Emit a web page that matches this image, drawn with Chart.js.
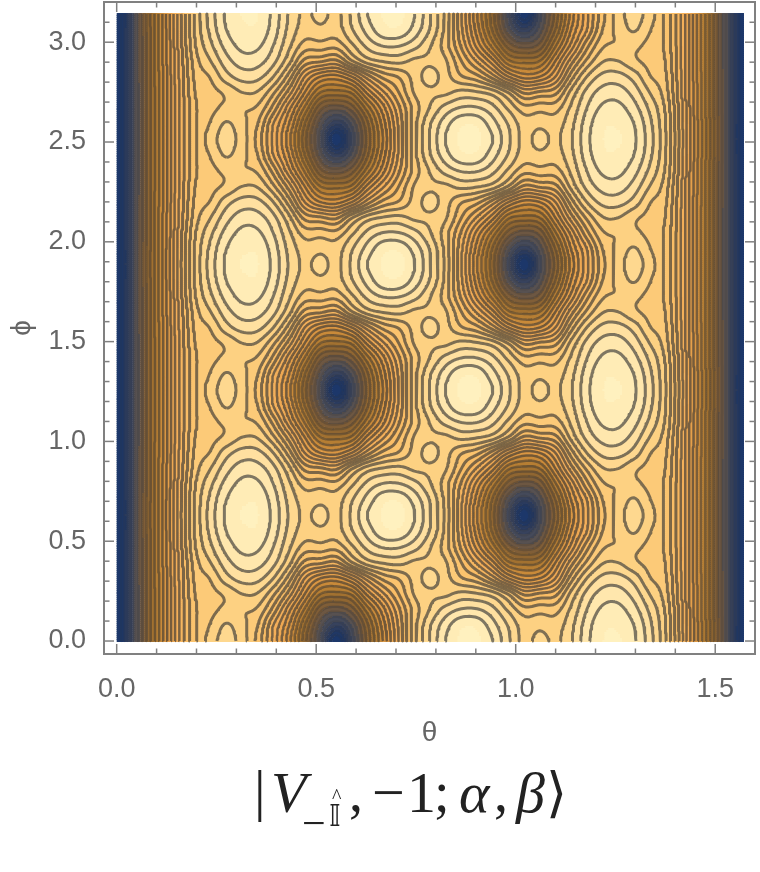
<!DOCTYPE html>
<html>
<head>
<meta charset="utf-8">
<title>contour</title>
<script src="https://cdn.jsdelivr.net/npm/chart.js@4"></script>
<style>
  html, body { margin: 0; padding: 0; background: #fff; }
  .wrap { position: relative; width: 760px; height: 872px; overflow: hidden; }
  canvas { display: block; }
  .m { position: absolute; font-family: "Liberation Serif", serif; color: #222; line-height: 1; white-space: pre; }
  .it { font-style: italic; }
</style>
</head>
<body>
<div class="wrap">
  <canvas id="myChart" width="760" height="872"></canvas>
  <span class="m" style="left:254px;top:762px;font-size:58px">|</span>
  <span class="m it" style="left:271px;top:764px;font-size:58px">V</span>
  <span class="m" style="left:302px;top:802px;font-size:42px">−</span>
  <span class="m" style="left:332px;top:786px;font-size:20px">^</span>
  <span class="m" style="left:329px;top:801px;font-size:30px;font-family:'DejaVu Sans'">𝕀</span>
  <span class="m" style="left:349px;top:764px;font-size:56px">,</span>
  <span class="m" style="left:372px;top:764px;font-size:58px">−</span>
  <span class="m" style="left:407px;top:764px;font-size:58px">1</span>
  <span class="m" style="left:434px;top:764px;font-size:56px">;</span>
  <span class="m it" style="left:459px;top:764px;font-size:58px">α</span>
  <span class="m" style="left:494px;top:764px;font-size:56px">,</span>
  <span class="m it" style="left:516px;top:764px;font-size:58px">β</span>
  <span class="m" style="left:546px;top:766px;font-size:54px;font-family:'DejaVu Sans'">⟩</span>
</div>
<script>
// contour height, in units of "how many contour lines up from the edge"
// rows run along theta, one row per pi/40 in phi
const row8 = [5,9.5,13.5,17.4,21.6,25.2,27.5,29.2,30.1,30,28.7,26.9,25.8,26.4,25.7,27.2,29,30.2,30.3,29.05,27.1,24.7,21,17,13.3,9.3,5,9.6,13.3,17.3,20.7,23.6,25.5,26.4,25.5,23.8,21,17.1,13.3,9.5,5];
const row7 = [5,9.5,13.5,17.4,21.5,25.1,27.3,29,29.8,29.8,28.5,26.7,25.5,25.7,25.5,26.9,28.4,29.7,29.8,28.6,26.9,24.6,21.2,17.5,13.8,10.3,8.2,10.5,14,18,21,24,25.3,26.1,25.1,23.8,21,17.1,13.3,9.5,5];
const row6 = [5,9.5,13.4,17.3,21.4,24.9,26.8,28.4,29.3,29.2,28,26.2,24.6,24.6,24.4,25.8,27.3,28.1,28.1,27.4,26.1,24.4,21.8,18.6,15.5,12.5,11.4,12.3,15.8,19.3,22.6,24.8,25.1,25.2,24.7,23.8,21,17.1,13.3,9.5,5];
const row5 = [5,9.5,13.4,17.2,21.2,24.5,26,27.6,28.5,28.4,27.3,25.3,22.7,22.2,21.8,23.9,25.5,26.1,26.3,25.8,25.8,25.1,23,20.8,18.3,15.2,14.6,15,18,21.5,24.2,25.9,26,25.2,24.7,24,21,17.1,13.3,9.5,5];
const row4 = [5,9.5,13.4,17.1,21.1,24.2,25.1,26.6,27.4,27.3,26,23.5,20,18,17.6,19,21.5,23.3,24.1,25.4,26.4,25.4,24.1,23.3,21.5,19,17.6,18,20,23.5,26,27.3,27.4,26.6,25.1,24.2,21.1,17.1,13.4,9.5,5];
const row3 = [...row5].reverse();
const row2 = [...row6].reverse();
const row1 = [...row7].reverse();
const row0 = [...row8].reverse();

const gridRows = [
  row0,row1,row2,row3,row4,row5,row6,row7,row8,
  row7,row6,row5,row4,row3,row2,row1,
  row0,row1,row2,row3,row4,row5,row6,row7,row8,
  row7,row6,row5,row4,row3,row2,row1,
  row0,row1,row2,row3,row4,row5,row6,row7,row8
];

const thetaMax = Math.PI / 2;
const phiMax = Math.PI;
const contourLevels = [6,7,8,9,10,11,12,13,14,15,16,17,18,19,20,21,22,23,24,25,26,27,28,29];

const thetaLabels = [0, 0.5, 1, 1.5];
const phiLabels = [0, 0.5, 1, 1.5, 2, 2.5, 3];
const thetaMinor = [0.1,0.2,0.3,0.4,0.6,0.7,0.8,0.9,1.1,1.2,1.3,1.4,1.6];
const phiMinor = [0.1,0.2,0.3,0.4,0.6,0.7,0.8,0.9,1.1,1.2,1.3,1.4,1.6,1.7,1.8,1.9,2.1,2.2,2.3,2.4,2.6,2.7,2.8,2.9,3.1,3.2];

// band colours by height
const colorStops = [
  [5, [26,54,108]], [6.5, [32,56,102]], [8, [48,62,94]], [10, [76,78,88]], [12, [120,90,58]], [14, [152,106,46]],
  [16, [192,132,52]], [18, [226,156,70]], [20, [242,172,86]], [23, [251,192,104]], [26, [253,212,135]],
  [28, [255,228,168]], [31, [255,243,196]]
];

function bandColor(z) {
  const v = Math.floor(z) + 0.5;
  for (let k = 1; k < colorStops.length; k++) {
    if (v <= colorStops[k][0]) {
      const a = colorStops[k - 1], b = colorStops[k];
      const t = (v - a[0]) / (b[0] - a[0]);
      const c = a[1].map((n, m) => Math.round(n + (b[1][m] - n) * t));
      return 'rgb(' + c.join(',') + ')';
    }
  }
  return 'rgb(255,243,196)';
}

function lineAlpha(level) {
  if (level < 10) return 0.18;
  if (level < 18) return 0.18 + (level - 10) * 0.056;
  return 0.63;
}

// smooth the hand read table so the rings are round
const fine = 8;
function cr(p0, p1, p2, p3, t) {
  return 0.5 * (2*p1 + (p2-p0)*t + (2*p0-5*p1+4*p2-p3)*t*t + (3*p1-p0-3*p2+p3)*t*t*t);
}
function at(r, c) {
  const j = Math.max(0, Math.min(gridRows.length - 1, r));
  const i = Math.max(0, Math.min(gridRows[0].length - 1, c));
  return gridRows[j][i];
}
const W = (gridRows[0].length - 1) * fine + 1;
const H = (gridRows.length - 1) * fine + 1;
const field = new Float32Array(W * H);
for (let j = 0; j < H; j++) {
  const r = Math.floor(j / fine), tr = j / fine - r;
  for (let i = 0; i < W; i++) {
    const c = Math.floor(i / fine), tc = i / fine - c;
    const col = [];
    for (let m = -1; m <= 2; m++) {
      col.push(cr(at(r+m,c-1), at(r+m,c), at(r+m,c+1), at(r+m,c+2), tc));
    }
    field[j * W + i] = Math.max(0, cr(col[0], col[1], col[2], col[3], tr));
  }
}
const thetaAt = i => i / (W - 1) * thetaMax;
const phiAt = j => j / (H - 1) * phiMax;

// marching squares, chained into polylines with NaN breaks
function contourPoints(level) {
  const nodes = new Map();
  const link = (a, b) => {
    nodes.get(a).next.push(b);
    nodes.get(b).next.push(a);
  };
  const cross = (i, j, horiz) => {
    const key = 2 * (j * W + i) + (horiz ? 0 : 1);
    if (!nodes.has(key)) {
      const v0 = field[j * W + i];
      const v1 = horiz ? field[j * W + i + 1] : field[(j + 1) * W + i];
      const t = (level - v0) / (v1 - v0);
      nodes.set(key, {
        x: thetaAt(horiz ? i + t : i),
        y: phiAt(horiz ? j : j + t),
        next: []
      });
    }
    return key;
  };
  for (let j = 0; j < H - 1; j++) {
    for (let i = 0; i < W - 1; i++) {
      const a = field[j*W+i] >= level, b = field[j*W+i+1] >= level;
      const c = field[(j+1)*W+i+1] >= level, d = field[(j+1)*W+i] >= level;
      const hit = [];
      if (a !== b) hit.push(cross(i, j, true));
      if (b !== c) hit.push(cross(i + 1, j, false));
      if (d !== c) hit.push(cross(i, j + 1, true));
      if (a !== d) hit.push(cross(i, j, false));
      if (hit.length === 2) link(hit[0], hit[1]);
      if (hit.length === 4) { link(hit[0], hit[3]); link(hit[1], hit[2]); }
    }
  }
  const out = [];
  const seen = new Set();
  const walk = start => {
    let cur = start;
    while (cur !== undefined && !seen.has(cur)) {
      seen.add(cur);
      const n = nodes.get(cur);
      out.push({ x: n.x, y: n.y });
      const nx = n.next.find(k => !seen.has(k));
      if (nx === undefined) {
        if (n.next.includes(start) && cur !== start) out.push({ x: nodes.get(start).x, y: nodes.get(start).y });
      }
      cur = nx;
    }
    out.push({ x: NaN, y: NaN });
  };
  nodes.forEach((n, k) => { if (n.next.length === 1 && !seen.has(k)) walk(k); });
  nodes.forEach((n, k) => { if (!seen.has(k)) walk(k); });
  return out;
}

const datasets = contourLevels.map(level => ({
  data: contourPoints(level),
  showLine: true,
  pointRadius: 0,
  borderWidth: level >= 22 ? 3 : 2.5,
  borderJoinStyle: 'round',
  borderColor: 'rgba(51,51,51,' + lineAlpha(level) + ')',
  spanGaps: false
}));

const bandFill = {
  id: 'bandFill',
  beforeDatasetsDraw(chart) {
    const { ctx, scales: { x, y } } = chart;
    ctx.save();
    for (let j = 0; j < H - 1; j++) {
      const y0 = y.getPixelForValue(phiAt(j)), y1 = y.getPixelForValue(phiAt(j + 1));
      let i = 0;
      while (i < W - 1) {
        const col = Math.floor(field[j * W + i]);
        let e = i + 1;
        while (e < W - 1 && Math.floor(field[j * W + e]) === col) e++;
        const x0 = x.getPixelForValue(thetaAt(i)), x1 = x.getPixelForValue(thetaAt(e));
        ctx.fillStyle = bandColor(field[j * W + i]);
        ctx.fillRect(x0, Math.floor(y1), x1 - x0 + 0.5, Math.ceil(y0) - Math.floor(y1));
        i = e;
      }
    }
    ctx.restore();
  }
};

const frameColor = '#808080';
const frameTicks = {
  id: 'frameTicks',
  afterDatasetsDraw(chart) {
    const { ctx, chartArea: a, scales: { x, y } } = chart;
    ctx.save();
    ctx.strokeStyle = frameColor;
    ctx.lineWidth = 1.5;
    const seg = (x0, y0, x1, y1) => { ctx.beginPath(); ctx.moveTo(x0, y0); ctx.lineTo(x1, y1); ctx.stroke(); };
    const drawX = (v, len) => {
      const p = x.getPixelForValue(v);
      seg(p, a.bottom, p, a.bottom - len);
      seg(p, a.top, p, a.top + len);
    };
    const drawY = (v, len) => {
      const p = y.getPixelForValue(v);
      seg(a.left, p, a.left + len, p);
      seg(a.right, p, a.right - len, p);
    };
    thetaLabels.forEach(v => drawX(v, 10));
    thetaMinor.forEach(v => drawX(v, 5.5));
    phiLabels.forEach(v => drawY(v, 10));
    phiMinor.forEach(v => drawY(v, 5.5));
    ctx.lineWidth = 2;
    ctx.strokeRect(a.left, a.top, a.right - a.left, a.bottom - a.top);
    ctx.restore();
  }
};

const labelFont = { family: '"Liberation Sans", sans-serif', size: 27 };
const titleFont = { family: '"Liberation Sans", sans-serif', size: 28 };

new Chart(document.getElementById('myChart'), {
  type: 'scatter',
  data: { datasets },
  options: {
    responsive: false,
    animation: false,
    events: [],
    layout: { padding: { top: 2, right: 5, left: 0, bottom: 0 } },
    plugins: { legend: { display: false }, tooltip: { enabled: false } },
    scales: {
      x: {
        type: 'linear',
        min: -0.0318,
        max: 1.5997,
        grid: { display: false },
        border: { display: false },
        afterBuildTicks: s => { s.ticks = thetaLabels.map(value => ({ value })); },
        afterFit: s => { s.height = 218; s.paddingLeft = 0; s.paddingRight = 0; },
        ticks: {
          autoSkip: false, maxRotation: 0, padding: 11, color: '#666', font: labelFont,
          callback: v => Number(v).toFixed(1)
        },
        title: { display: true, text: 'θ', color: '#666', font: titleFont, padding: { top: 0, bottom: 122 } }
      },
      y: {
        type: 'linear',
        min: -0.065,
        max: 3.2014,
        grid: { display: false },
        border: { display: false },
        afterBuildTicks: s => { s.ticks = phiLabels.map(value => ({ value })); },
        afterFit: s => { s.width = 104; s.paddingTop = 0; s.paddingBottom = 0; },
        ticks: {
          autoSkip: false, padding: 10, color: '#666', font: labelFont,
          callback: v => Number(v).toFixed(1)
        },
        title: { display: true, text: 'ϕ', color: '#666', font: titleFont, padding: { top: 5, bottom: 0 } }
      }
    }
  },
  plugins: [bandFill, frameTicks]
});
</script>
</body>
</html>
